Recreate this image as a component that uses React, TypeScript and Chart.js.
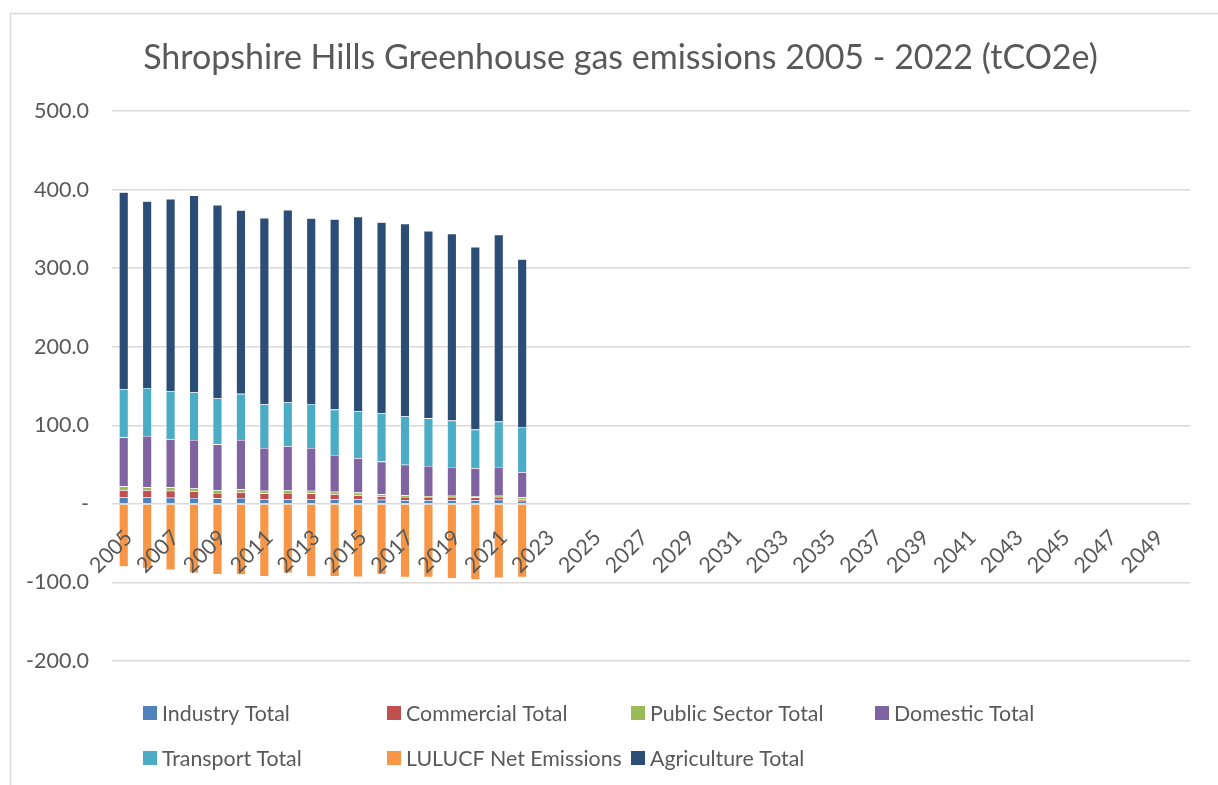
import React, { useEffect, useRef } from 'react';
import { Chart, registerables } from 'chart.js';

Chart.register(...registerables);

const TITLE = 'Shropshire Hills Greenhouse gas emissions 2005 - 2022 (tCO2e)';

const years = [
  '2005', '2006', '2007', '2008', '2009', '2010', '2011', '2012', '2013', '2014',
  '2015', '2016', '2017', '2018', '2019', '2020', '2021', '2022', '2023', '2024',
  '2025', '2026', '2027', '2028', '2029', '2030', '2031', '2032', '2033', '2034',
  '2035', '2036', '2037', '2038', '2039', '2040', '2041', '2042', '2043', '2044',
  '2045', '2046', '2047', '2048', '2049', '2050',
];

const seriesNames = [
  'Industry Total',
  'Commercial Total',
  'Public Sector Total',
  'Domestic Total',
  'Transport Total',
  'LULUCF Net Emissions',
  'Agriculture Total',
];

const industry = [8.6, 8.6, 7.9, 7.5, 7.0, 7.5, 6.1, 6.1, 6.1, 5.7, 5.7, 5.3, 4.8, 4.8, 4.8, 4.8, 5.3, 4.1];
const commercial = [9.0, 9.0, 8.9, 8.8, 6.8, 7.5, 7.3, 7.7, 7.3, 6.8, 5.5, 4.6, 3.9, 3.9, 3.9, 3.5, 3.4, 2.0];
const publicSector = [4.7, 3.4, 4.2, 3.4, 3.8, 3.5, 3.4, 3.8, 3.4, 3.0, 3.1, 2.2, 2.1, 1.2, 1.7, 1.2, 1.7, 2.2];
const domestic = [62.4, 65.4, 61.2, 61.6, 58.2, 62.8, 54.3, 56.0, 54.3, 46.7, 44.0, 41.7, 39.1, 38.3, 36.5, 36.1, 36.5, 32.2];
const transport = [60.9, 61.2, 60.8, 60.8, 58.3, 58.7, 55.7, 55.4, 56.1, 57.8, 59.6, 61.5, 61.6, 60.7, 59.1, 48.9, 57.8, 57.3];
const lulucf = [-80.1, -82.2, -84.3, -88.1, -89.9, -90.3, -92.5, -88.1, -92.8, -92.5, -93.2, -89.9, -93.6, -93.6, -95.0, -96.7, -94.5, -93.6];
const agriculture = [251.1, 237.6, 245.2, 250.4, 246.5, 233.7, 237.2, 245.2, 236.3, 242.2, 247.7, 243.1, 245.2, 238.5, 237.9, 232.5, 238.0, 213.8];

const seriesValues = [industry, commercial, publicSector, domestic, transport, lulucf, agriculture];
const seriesColors = ['#4F81BD', '#C0504D', '#9BBB59', '#8064A2', '#4BACC6', '#F79646', '#2C4D75'];

const yTicks = [-200, -100, 0, 100, 200, 300, 400, 500];

const FONT = 'Lato, "Open Sans", "DejaVu Sans", sans-serif';
const TEXT_COLOR = '#595959';
const GRID_COLOR = '#d9d9d9';

function fitSize(text: string, width: number): number {
  const c = document.createElement('canvas').getContext('2d') as CanvasRenderingContext2D;
  c.font = `100px ${FONT}`;
  return (100 * width) / c.measureText(text).width;
}

export default function App() {
  const ref = useRef<HTMLCanvasElement | null>(null);

  useEffect(() => {
    document.body.style.margin = '0';
    const tickSize = fitSize('500.0', 55);
    const titleSize = fitSize(TITLE, 955);
    const legendSize = fitSize('LULUCF Net Emissions', 216);

    const decor = {
      id: 'decor',
      beforeDraw(chart: any) {
        const ctx = chart.ctx as CanvasRenderingContext2D;
        ctx.save();
        ctx.fillStyle = '#ffffff';
        ctx.fillRect(0, 0, chart.width, chart.height);
        ctx.strokeStyle = GRID_COLOR;
        ctx.lineWidth = 1.5;
        ctx.beginPath();
        ctx.moveTo(10.5, chart.height + 5);
        ctx.lineTo(10.5, 13.5);
        ctx.lineTo(chart.width + 5, 13.5);
        ctx.stroke();
        ctx.restore();
      },
      afterDraw(chart: any) {
        const ctx = chart.ctx as CanvasRenderingContext2D;
        ctx.save();
        ctx.fillStyle = TEXT_COLOR;
        ctx.font = `${titleSize}px ${FONT}`;
        ctx.textAlign = 'center';
        ctx.textBaseline = 'alphabetic';
        ctx.fillText(TITLE, 620.5, 69);

        ctx.font = `${legendSize}px ${FONT}`;
        ctx.textAlign = 'left';
        ctx.textBaseline = 'middle';
        chart.data.datasets.forEach((ds: any, i: number) => {
          const col = i % 4;
          const row = Math.floor(i / 4);
          const textX = 162 + col * 244;
          const yc = 713 + row * 45;
          ctx.fillStyle = ds.backgroundColor;
          ctx.fillRect(textX - 19, yc - 7, 14, 14);
          ctx.fillStyle = TEXT_COLOR;
          ctx.fillText(ds.label, textX, yc + 1);
        });
        ctx.restore();
      },
    };

    const chart = new Chart(ref.current as HTMLCanvasElement, {
      type: 'bar',
      data: {
        labels: years,
        datasets: seriesNames.map((name, i) => ({
          label: name,
          data: years.map((_, j) => (j < seriesValues[i].length ? seriesValues[i][j] : null)),
          backgroundColor: seriesColors[i],
          borderColor: 'rgba(255,255,255,0.6)',
          borderWidth: 0.6,
          categoryPercentage: 1,
          barPercentage: 0.4,
        })),
      },
      options: {
        responsive: false,
        animation: false,
        devicePixelRatio: 1,
        layout: { padding: { left: 27, right: 25, top: 111, bottom: 124 } },
        plugins: {
          legend: { display: false },
          title: { display: false },
          tooltip: { enabled: false },
        },
        scales: {
          x: {
            stacked: true,
            position: { y: 0 } as any,
            offset: true,
            z: 1,
            grid: { display: false, drawTicks: false },
            border: { display: false },
            ticks: {
              z: 1,
              autoSkip: false,
              minRotation: 45,
              maxRotation: 45,
              padding: 21,
              labelOffset: 5,
              color: TEXT_COLOR,
              font: { size: tickSize, family: FONT },
              callback: (_v: any, i: number) => (i % 2 === 0 ? years[i] : ''),
            } as any,
          },
          y: {
            stacked: true,
            min: yTicks[0],
            max: yTicks[yTicks.length - 1],
            afterFit: (s: any) => {
              s.width = 85;
            },
            afterBuildTicks: (s: any) => {
              s.ticks = yTicks.map((v) => ({ value: v }));
            },
            grid: { color: GRID_COLOR, lineWidth: 1.5, drawTicks: false },
            border: { display: false },
            ticks: {
              padding: 23,
              color: TEXT_COLOR,
              font: { size: tickSize, family: FONT },
              callback: (v: any) => (Number(v) === 0 ? '-' : Number(v).toFixed(1)),
            },
          },
        },
      },
      plugins: [decor],
    });
    return () => chart.destroy();
  }, []);

  return (
    <div style={{ position: 'absolute', left: 0, top: 0, width: 1218, height: 785, background: '#fff' }}>
      <canvas ref={ref} width={1218} height={785} style={{ display: 'block' }} />
    </div>
  );
}
